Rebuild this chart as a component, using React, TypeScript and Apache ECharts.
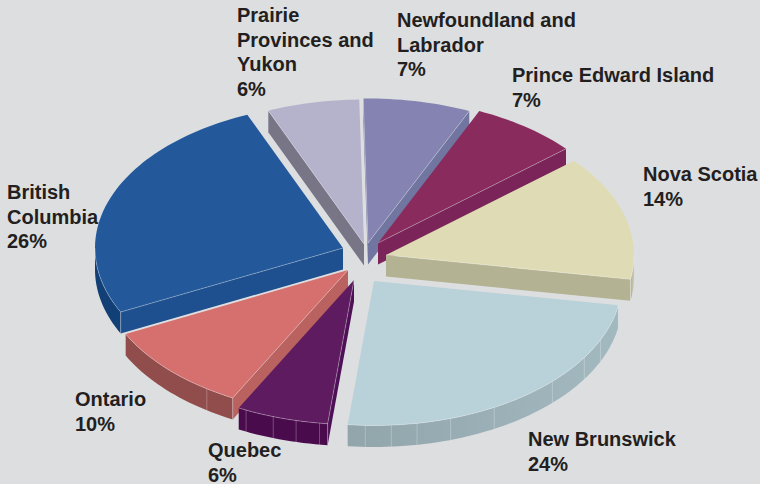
import React, { useEffect, useRef } from "react";
import * as echarts from "echarts";

const categories = ["Prairie Provinces and Yukon", "Newfoundland and Labrador", "Prince Edward Island", "Nova Scotia", "New Brunswick", "Quebec", "Ontario", "British Columbia"];
const shares = [6, 7, 7, 14, 24, 6, 10, 26];

const labelLines = [
  ["Prairie", "Provinces and", "Yukon"],
  ["Newfoundland and", "Labrador"],
  ["Prince Edward Island"],
  ["Nova Scotia"],
  ["New Brunswick"],
  ["Quebec"],
  ["Ontario"],
  ["British", "Columbia"],
];
const labelX = [237, 397, 512, 643, 528, 208, 75, 7];
const labelY = [15, 20, 75, 174, 439, 450, 399, 192];

const faceColors = ["#b5b2cc", "#8483b1", "#8a2b5e", "#dfdcb5", "#b9d1d9", "#5e1b5f", "#d5706f", "#23599b"];
const sideColors = ["#787587", "#7176a0", "#7b2459", "#b3b292", "#a0b4ba", "#4e1056", "#b9625f", "#1e508f"];
const rimColors = ["#787587", "#7176a0", "#7b2459", "#b3b292", "#a0b4ba", "#4a0b4d", "#914d4c", "#123f75"];
const paintRank = [1, 2, 3, 5, 7, 8, 6, 4];
const offsetX = [-1, 3, 13, 21, 9, -11, -17, -22];
const offsetY = [-18, -19, -19, -7, 19, 18, 8, -14];
const rimDividers: number[][] = [[], [], [], [4, 7], [24, 32, 44, 61, 72, 80, 86, 92], [98, 103.5, 109, 115.8], [124.7], []];

const CX = 365, CY = 262, RX = 248, RY = 144.5, DEPTH = 21.5, START = 247.3;
const BG = "#dddee0";
const LINE_STEP = 24.5;
const rad = (d: number) => (d * Math.PI) / 180;

function renderSlice(params: any, api: any) {
  const i = params.dataIndex;
  const total = shares.reduce((a, b) => a + b, 0);
  const before = shares.slice(0, i).reduce((a, b) => a + b, 0);
  const a0 = START + (before / total) * 360;
  const a1 = a0 + (api.value(0) / total) * 360;
  const ax = CX + offsetX[i];
  const ay = CY + offsetY[i];
  const pt = (a: number, dy = 0) => [ax + RX * Math.cos(rad(a)), ay + RY * Math.sin(rad(a)) + dy];
  const arc = (from: number, to: number, dy = 0) => {
    const n = Math.max(2, Math.ceil(Math.abs(to - from) / 1.5));
    const out: number[][] = [];
    for (let k = 0; k <= n; k++) out.push(pt(from + ((to - from) * k) / n, dy));
    return out;
  };
  const z2 = paintRank[i];
  const children: any[] = [];
  const poly = (points: number[][], fill: any, z = 0) =>
    children.push({ type: "polygon", z2: z2 * 10 + z, shape: { points }, style: { fill }, silent: true });
  const stroke = (points: number[][], op = 0.4) =>
    children.push({ type: "polyline", z2: z2 * 10 + 3, shape: { points }, style: { fill: "none", stroke: "#ffffff", opacity: op, lineWidth: 1 }, silent: true });

  const cosS = Math.cos(rad(a0));
  const cosE = Math.cos(rad(a1));
  if (cosS < 0) {
    poly([[ax, ay], pt(a0), pt(a0, DEPTH), [ax, ay + DEPTH]], sideColors[i]);
    stroke([[ax, ay], pt(a0)], 0.3);
  }
  if (cosE > 0) {
    poly([[ax, ay], pt(a1), pt(a1, DEPTH), [ax, ay + DEPTH]], sideColors[i]);
    stroke([[ax, ay], pt(a1)], 0.3);
  }
  for (const base of [0, 360]) {
    const from = Math.max(a0, base);
    const to = Math.min(a1, base + 180);
    if (to > from) {
      const top = arc(from, to);
      const bottom = arc(to, from, DEPTH);
      const fill = i === 4
        ? new echarts.graphic.LinearGradient(0, 0, 1, 0, [{ offset: 0, color: "#91a5ab" }, { offset: 1, color: "#a3b9c0" }])
        : rimColors[i];
      poly(top.concat(bottom), fill, 1);
      stroke(top, 0.3);
      for (const d of rimDividers[i]) {
        const a = d + base;
        if (a > from && a < to) stroke([pt(a), pt(a, DEPTH)], 0.25);
      }
      if (from === a0 || to === a1) {
        const edge = from === a0 ? a0 : a1;
        stroke([pt(edge), pt(edge, DEPTH)], 0.35);
      }
    }
  }
  poly([[ax, ay]].concat(arc(a0, a1)), faceColors[i], 2);
  return { type: "group", children };
}

export default function App() {
  const ref = useRef<HTMLDivElement>(null);
  useEffect(() => {
    document.body.style.margin = "0";
    const chart = echarts.init(ref.current!, undefined, { renderer: "svg" });
    chart.setOption({
      animation: false,
      backgroundColor: BG,
      series: [
        {
          type: "custom",
          coordinateSystem: "none",
          silent: true,
          renderItem: renderSlice,
          data: shares.map((v, i) => ({ name: categories[i], value: [v] })),
        },
      ],
      graphic: labelLines.flatMap((lines, i) =>
        lines.concat(`${shares[i]}%`).map((line, k) => ({
          type: "text",
          x: labelX[i],
          y: labelY[i] + k * LINE_STEP,
          z: 10,
          silent: true,
          style: {
            text: line,
            fontFamily: "'Liberation Sans', Arial, sans-serif",
            fontWeight: "bold",
            fontSize: 20,
            lineHeight: 16,
            verticalAlign: "middle",
            fill: "#231f20",
          },
        }))
      ),
    });
    return () => chart.dispose();
  }, []);
  return <div ref={ref} style={{ width: 760, height: 484 }} />;
}
